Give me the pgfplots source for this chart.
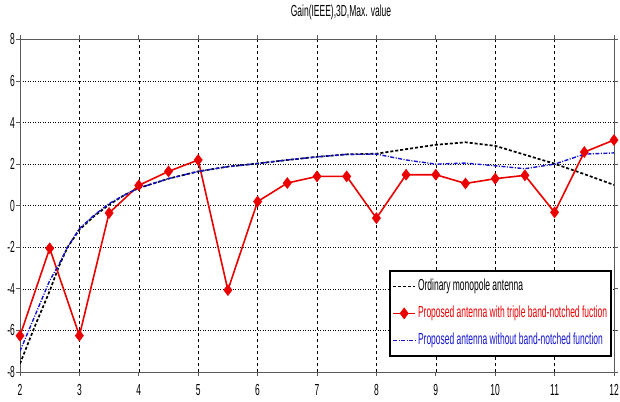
\documentclass[border=0pt]{standalone}
\usepackage{fontspec}
\setmainfont{Liberation Sans}[FakeStretch=0.53]
\usepackage{pgfplots}
\pgfplotsset{compat=1.18}
\definecolor{myred}{RGB}{235,0,0}
\definecolor{myblue}{RGB}{20,20,210}
\definecolor{axgray}{RGB}{90,90,90}
\begin{document}
\fontsize{16bp}{18bp}\selectfont
\begin{tikzpicture}
\useasboundingbox (-20bp,-30bp) rectangle (600bp,372bp);
\begin{axis}[
  at={(0,0)}, anchor=south west,
  scale only axis, width=594bp, height=332.6bp,
  xmin=2, xmax=12, ymin=-8, ymax=8,
  xtick={2,3,...,12}, ytick={-8,-6,...,8},
  /pgf/number format/assume math mode=true,
  axis line style={axgray, line width=0.9bp},
  tick style={axgray, line width=0.8bp},
  tick align=outside, major tick length=4bp,
  xticklabel style={inner sep=0pt, yshift=-8bp},
  yticklabel style={inner sep=0pt, xshift=-1bp},
  grid=major,
  x grid style={black, line width=0.5bp, dash pattern=on 3bp off 3bp},
  y grid style={black, line width=0.7bp, dash pattern=on 1bp off 1.5bp},
  title={Gain(IEEE),3D,Max. value},
  title style={at={(0.5404,1)}, anchor=base, yshift=17bp, inner sep=0pt},
  legend image code/.code={\draw[mark repeat=2,mark phase=2,#1] plot coordinates {(0bp,0bp) (11bp,0bp) (22bp,0bp)};},
  legend cell align=left,
  legend style={at={(0.9966,0.3067)}, anchor=north east, draw=black, line width=1.8bp,
    fill=white, inner xsep=2bp, inner ysep=2bp, row sep=0pt,
    nodes={inner xsep=2bp, inner ysep=0pt, text height=11.5bp, text depth=3bp, minimum height=27bp}},
]
\addplot[black, line width=1.7bp, dash pattern=on 3bp off 2bp] coordinates {
(2,-7.6) (2.25,-5.8) (2.5,-4.1) (2.65,-2.95) (2.8,-2.0) (3,-1.15) (3.25,-0.5)
(3.5,0.05) (3.75,0.5) (4,0.85) (4.5,1.3) (5,1.65) (5.5,1.88) (6,2.03) (6.5,2.2)
(7,2.35) (7.5,2.47) (8,2.5) (8.5,2.72) (9,2.93) (9.5,3.05) (10,2.88) (10.5,2.45)
(11,2.02) (11.5,1.52) (12,1.0)};
\addlegendentry{Ordinary monopole antenna}
\addplot[myred, line width=1.6bp, mark=diamond*, mark size=5.5bp, mark options={solid, fill=myred, line width=0.5bp}] coordinates {
(2,-6.26) (2.5,-2.05) (3,-6.25) (3.5,-0.35) (4,0.98) (4.5,1.65) (5,2.2)
(5.5,-4.06) (6,0.2) (6.5,1.09) (7,1.41) (7.5,1.41) (8,-0.6) (8.5,1.49)
(9,1.49) (9.5,1.07) (10,1.3) (10.5,1.46) (11,-0.32) (11.5,2.58) (12,3.16)};
\addlegendentry{\textcolor{myred}{Proposed antenna with triple band-notched fuction}}
\addplot[myblue, line width=1.4bp, dash pattern=on 4bp off 1.5bp on 1bp off 1.5bp] coordinates {
(2,-7.0) (2.25,-5.3) (2.5,-3.6) (2.65,-2.85) (2.8,-2.0) (3,-1.1) (3.25,-0.45)
(3.5,0.1) (3.75,0.5) (4,0.85) (4.5,1.3) (5,1.65) (5.5,1.88) (6,2.03) (6.5,2.2)
(7,2.35) (7.5,2.47) (8,2.48) (8.5,2.2) (9,2.0) (9.5,2.05) (10,1.92) (10.5,1.78)
(11,2.0) (11.5,2.48) (12,2.54)};
\addlegendentry{\textcolor{myblue}{Proposed antenna without band-notched function}}
\end{axis}
\end{tikzpicture}
\end{document}
